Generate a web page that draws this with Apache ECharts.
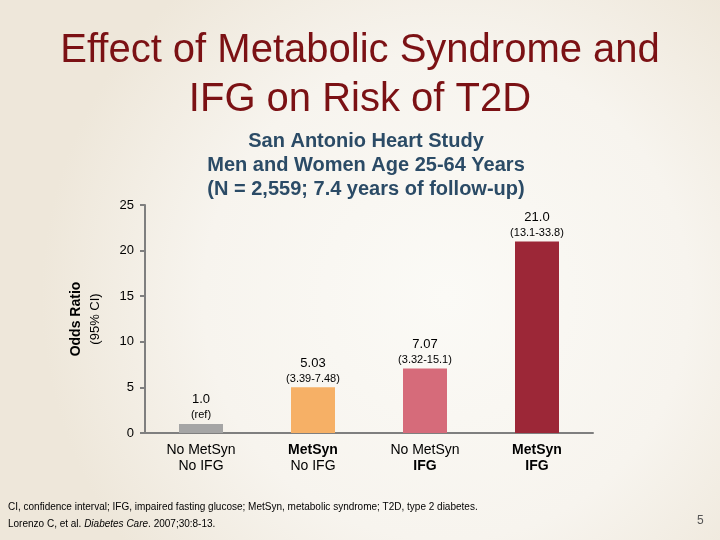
<!DOCTYPE html>
<html><head><meta charset="utf-8">
<script src="https://cdn.jsdelivr.net/npm/echarts@6/dist/echarts.min.js"></script>
<style>html,body{margin:0;padding:0;}#c{width:720px;height:540px;}</style>
</head><body><div id="c"></div>
<script>
const categories = ['No MetSyn|No IFG', 'MetSyn|No IFG', 'No MetSyn|IFG', 'MetSyn|IFG'];
const boldFirst = [false, true, false, true];
const boldSecond = [false, false, true, true];
const oddsRatios = [1.0, 5.03, 7.07, 21.0];
const valueLabels = ['1.0', '5.03', '7.07', '21.0'];
const ciLabels = ['(ref)', '(3.39-7.48)', '(3.32-15.1)', '(13.1-33.8)'];
const barColors = ['#a5a5a5', '#f6b066', '#d66b7a', '#9c2737'];
const yTicks = [0, 5, 10, 15, 20, 25];

const chart = echarts.init(document.getElementById('c'));
const font = 'Liberation Sans, Arial, sans-serif';
chart.setOption({
  backgroundColor: {
    type: 'radial', x: 0.62, y: 0.55, r: 0.75,
    colorStops: [{offset: 0, color: '#fbfaf6'}, {offset: 0.6, color: '#f7f4ee'}, {offset: 1, color: '#eee7da'}]
  },
  animation: false,
  title: [
    {text: 'Effect of Metabolic Syndrome and\nIFG on Risk of T2D', left: 'center', top: 21,
     textStyle: {fontFamily: font, fontSize: 40, fontWeight: 'normal', color: '#7b1114', lineHeight: 49}},
    {text: 'San Antonio Heart Study\nMen and Women Age 25-64 Years\n(N = 2,559; 7.4 years of follow-up)', left: 361, textAlign: 'center', top: 124,
     textStyle: {fontFamily: font, fontSize: 20, fontWeight: 'bold', color: '#2b4b66', lineHeight: 24}}
  ],
  grid: {left: 145, right: 127, top: 205, bottom: 107},
  xAxis: {
    type: 'category', data: categories,
    axisLine: {lineStyle: {color: '#7f7f7f', width: 2}},
    axisTick: {show: false},
    axisLabel: {
      margin: 9, lineHeight: 16, color: '#000',
      formatter: function (v, i) {
        const p = v.split('|');
        return '{' + (boldFirst[i] ? 'b' : 'n') + '|' + p[0] + '}\n{' + (boldSecond[i] ? 'b' : 'n') + '|' + p[1] + '}';
      },
      rich: {
        n: {fontFamily: font, fontSize: 14, color: '#000', lineHeight: 16},
        b: {fontFamily: font, fontSize: 14, fontWeight: 'bold', color: '#000', lineHeight: 16}
      }
    }
  },
  yAxis: {
    type: 'value', min: 0, max: 25, interval: 5,
    name: '{a|Odds Ratio}\n{b|(95% CI)}', nameLocation: 'middle', nameGap: 40, nameRotate: 90,
    nameTextStyle: {rich: {
      a: {fontFamily: font, fontSize: 14, fontWeight: 'bold', color: '#000', lineHeight: 19},
      b: {fontFamily: font, fontSize: 13, color: '#000', lineHeight: 19}
    }},
    axisLine: {show: true, lineStyle: {color: '#7f7f7f', width: 2}},
    axisTick: {show: true, length: 5, lineStyle: {color: '#7f7f7f', width: 2}},
    splitLine: {show: false},
    axisLabel: {fontFamily: font, fontSize: 13, color: '#000', margin: 11,
      formatter: function (v) { return yTicks.indexOf(v) >= 0 ? String(v) : ''; }}
  },
  series: [{
    type: 'bar', barWidth: 44,
    data: oddsRatios.map((v, i) => ({value: v, itemStyle: {color: barColors[i]}})),
    label: {
      show: true, position: 'top', distance: 1,
      formatter: function (p) { return '{v|' + valueLabels[p.dataIndex] + '}\n{c|' + ciLabels[p.dataIndex] + '}'; },
      rich: {
        v: {fontFamily: font, fontSize: 13, color: '#000', lineHeight: 16, align: 'center'},
        c: {fontFamily: font, fontSize: 11, color: '#000', lineHeight: 15, align: 'center'}
      }
    }
  }],
  graphic: [
    {type: 'text', left: 8, top: 502, style: {text: 'CI, confidence interval; IFG, impaired fasting glucose; MetSyn, metabolic syndrome; T2D, type 2 diabetes.', font: '10px ' + font, fill: '#000'}},
    {type: 'text', left: 8, top: 519, style: {
      text: '{n|Lorenzo C, et al. }{i|Diabetes Care}{n|. 2007;30:8-13.}',
      rich: {n: {font: '10px ' + font, fill: '#000'}, i: {font: 'italic 10px ' + font, fill: '#000'}}
    }},
    {type: 'text', left: 697, top: 515, style: {text: '5', font: '12px ' + font, fill: '#555'}}
  ]
});
</script></body></html>
